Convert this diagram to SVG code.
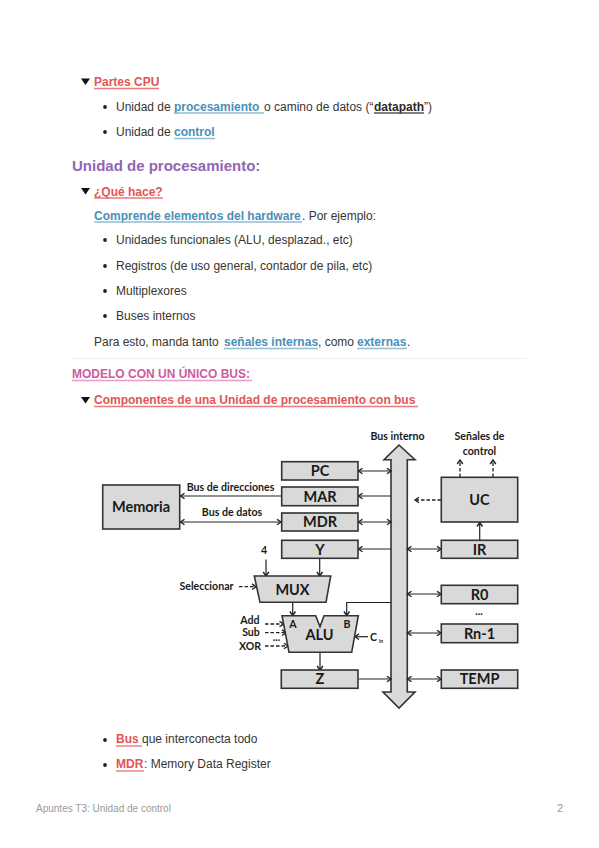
<svg xmlns="http://www.w3.org/2000/svg" width="599" height="848" viewBox="0 0 599 848">
<style>
text{font-family:"Liberation Sans",Arial,sans-serif;font-size:12px;fill:#37352f}
.b{font-weight:700}
.red{fill:#e15554}.blue{fill:#4a8fb8}.dark{fill:#2c2a26}
.h{font-size:15px;font-weight:700;fill:#9065b5}
.pink{fill:#cf5a9f;font-weight:700}
.ft{font-size:10px;fill:#999}
.ur{stroke:#eb7a78;stroke-width:1.4;fill:none}
.ub{stroke:#8fbdd6;stroke-width:1.4;fill:none}
.ud{stroke:#555;stroke-width:1.4;fill:none}
.up{stroke:#e79ccb;stroke-width:1.4;fill:none}
.box{fill:#d9d9d9;stroke:#333;stroke-width:1.6}
.d text{font-family:Lato,"Liberation Sans",sans-serif;font-weight:700;fill:#1a1a1a;text-anchor:middle}
.n{font-size:14.5px}
.s{font-size:10.6px}
.c path{fill:none;stroke:#222;stroke-width:1.2}
.c .da{stroke-dasharray:3.5 2;stroke-width:1.3}
</style>
<defs>
<marker id="a" markerUnits="userSpaceOnUse" markerWidth="8" markerHeight="8" refX="5.5" refY="4" orient="auto-start-reverse"><path d="M1.5 1.2L5.5 4L1.5 6.8" fill="none" stroke="#222" stroke-width="1.4"/></marker>
</defs>

<g id="text-top">
<path d="M81 78.500H90L85.500 85Z" fill="#111"/>
<text x="94" y="86" class="b red">Partes CPU</text><path class="ur" d="M94 88.500H159"/>
<circle cx="105" cy="107" r="1.900" fill="#222"/>
<text x="116" y="111">Unidad de</text>
<text x="174" y="111" class="b blue">procesamiento</text><path class="ub" d="M174 113H264"/>
<text x="264" y="111">o camino de datos (“</text>
<text x="374" y="111" class="b dark">datapath</text><path class="ud" d="M374 113H424"/>
<text x="424" y="111">”)</text>
<circle cx="105" cy="132" r="1.900" fill="#222"/>
<text x="116" y="136">Unidad de</text>
<text x="174" y="136" class="b blue">control</text><path class="ub" d="M174 138.500H215"/>
<text x="72" y="171" class="h">Unidad de procesamiento:</text>
<path d="M81 188H90L85.500 194.500Z" fill="#111"/>
<text x="94" y="196" class="b red">¿Qué hace?</text><path class="ur" d="M94 198H163"/>
<text x="94" y="220" class="b blue">Comprende elementos del hardware</text><path class="ub" d="M94 222H302"/>
<text x="302" y="220">. Por ejemplo:</text>
<circle cx="105" cy="240" r="1.900" fill="#222"/>
<text x="116" y="244">Unidades funcionales (ALU, desplazad., etc)</text>
<circle cx="105" cy="266" r="1.900" fill="#222"/>
<text x="116" y="270">Registros (de uso general, contador de pila, etc)</text>
<circle cx="105" cy="291" r="1.900" fill="#222"/>
<text x="116" y="295">Multiplexores</text>
<circle cx="105" cy="316" r="1.900" fill="#222"/>
<text x="116" y="320">Buses internos</text>
<text x="94" y="346">Para esto, manda tanto</text>
<text x="224" y="346" class="b blue">señales internas</text><path class="ub" d="M224 348.500H318"/>
<text x="318" y="346">, como</text>
<text x="357" y="346" class="b blue">externas</text><path class="ub" d="M357 348.500H407"/>
<text x="407" y="346">.</text>
<path d="M72 358.500H527" stroke="#efefed" stroke-width="1.200"/>
<text x="72" y="378" class="pink">MODELO CON UN ÚNICO BUS:</text><path class="up" d="M72 380.500H252"/>
<path d="M81 397H90L85.500 403.500Z" fill="#111"/>
<text x="94" y="404" class="b red">Componentes de una Unidad de procesamiento con bus</text><path class="ur" d="M94 406.500H418"/>
</g>

<g class="d">
<g id="bus"><path class="box" d="M399 445L415 459.700H407.300V692H415L399 708L383 692H391V459.700H384L399 445Z"/></g>
<g id="connectors" class="c">
<path marker-start="url(#a)" marker-end="url(#a)" d="M358.500 471H391"/>
<path marker-end="url(#a)" d="M391 496H358.500"/>
<path marker-start="url(#a)" marker-end="url(#a)" d="M358.500 522H391"/>
<path marker-end="url(#a)" d="M391 549H358.500"/>
<path marker-end="url(#a)" d="M281 496H180.500"/>
<path marker-start="url(#a)" marker-end="url(#a)" d="M180.500 522H281"/>
<path marker-end="url(#a)" d="M266 559.500V576"/>
<path marker-end="url(#a)" d="M319.700 558.500V576"/>
<path class="da" marker-end="url(#a)" d="M239 586.700H256"/>
<path marker-end="url(#a)" d="M292.700 602.500V615.500"/>
<path marker-end="url(#a)" d="M391 602.500H346.700V615.500"/>
<path marker-end="url(#a)" d="M320 652.500V670"/>
<path class="da" marker-end="url(#a)" d="M265 624H283.500"/>
<path class="da" marker-end="url(#a)" d="M265 632.700H286"/>
<path class="da" marker-end="url(#a)" d="M265 646H288"/>
<path marker-end="url(#a)" d="M368 636.700H355"/>
<path marker-end="url(#a)" d="M358.500 679H391"/>
<path class="da" marker-end="url(#a)" d="M441 500H415"/>
<path class="da" marker-end="url(#a)" d="M460 477V460"/>
<path class="da" marker-end="url(#a)" d="M493 477V460"/>
<path marker-end="url(#a)" d="M479.700 540V522.500"/>
<path marker-start="url(#a)" marker-end="url(#a)" d="M407.500 549H441"/>
<path marker-start="url(#a)" marker-end="url(#a)" d="M407.500 594H441"/>
<path marker-start="url(#a)" marker-end="url(#a)" d="M407.500 633H441"/>
<path marker-start="url(#a)" marker-end="url(#a)" d="M407.500 679H441"/>
</g>
<g id="pc"><rect class="box" x="281.700" y="461.700" width="76.300" height="18.300"/><text class="n" x="320" y="476">PC</text></g>
<g id="mar"><rect class="box" x="281.700" y="487" width="76.300" height="18.700"/><text class="n" x="320" y="501.500">MAR</text></g>
<g id="mdr"><rect class="box" x="281.700" y="513" width="76.300" height="18"/><text class="n" x="320" y="527">MDR</text></g>
<g id="y"><rect class="box" x="281.700" y="540.300" width="76.300" height="18"/><text class="n" x="320" y="554.500">Y</text></g>
<g id="memoria"><rect class="box" x="102.700" y="485" width="77" height="44"/><text class="n" x="141" y="512">Memoria</text></g>
<g id="uc"><rect class="box" x="441.300" y="477.300" width="76.400" height="44.700"/><text class="n" x="479.500" y="505">UC</text></g>
<g id="ir"><rect class="box" x="441.300" y="540.300" width="76.400" height="18"/><text class="n" x="479.500" y="554.500">IR</text></g>
<g id="r0"><rect class="box" x="441.300" y="585.300" width="76.400" height="18.400"/><text class="n" x="479.500" y="599.500">R0</text></g>
<g id="rn1"><rect class="box" x="441.300" y="624" width="76.400" height="18.700"/><text class="n" x="479.500" y="638.500">Rn-1</text></g>
<g id="temp"><rect class="box" x="441.300" y="670" width="76.400" height="18.300"/><text class="n" x="479.500" y="684">TEMP</text></g>
<g id="z"><rect class="box" x="281.300" y="670" width="76.700" height="18.300"/><text class="n" x="320" y="684">Z</text></g>
<g id="mux"><path class="box" d="M254.300 576H330.700L326 602.300H260Z"/><text class="n" x="292.500" y="594.500">MUX</text></g>
<g id="alu"><path class="box" d="M282 615.700H315.700L320 626.700L324 615.700H358.300L351.700 652.300H289Z"/><text class="n" x="319.500" y="640">ALU</text><text class="s" x="293" y="628">A</text><text class="s" x="347" y="628">B</text></g>
<g id="labels">
<text class="s" x="397.500" y="440">Bus interno</text>
<text class="s" x="479.500" y="440">Señales de</text>
<text class="s" x="479.500" y="455">control</text>
<text class="s" x="230.500" y="491">Bus de direcciones</text>
<text class="s" x="232" y="516">Bus de datos</text>
<text class="s" x="264" y="554">4</text>
<text class="s" x="206.500" y="590">Seleccionar</text>
<text class="s" x="250" y="623.500">Add</text>
<text class="s" x="251" y="636">Sub</text>
<text class="s" x="250" y="650">XOR</text>
<text class="s" x="276.500" y="641">...</text>
<text class="s" x="479" y="615">...</text>
<text class="s" x="373.500" y="641">C</text>
<text x="381" y="643" style="font-size:5px">in</text>
</g>
</g>

<g id="text-bottom">
<circle cx="105" cy="740" r="1.900" fill="#222"/>
<text x="116" y="743" class="b red">Bus</text><path class="ur" d="M116 746H142"/>
<text x="142" y="743">que interconecta todo</text>
<circle cx="105" cy="765" r="1.900" fill="#222"/>
<text x="116" y="768" class="b red">MDR</text><path class="ur" d="M116 771H144"/>
<text x="144" y="768">: Memory Data Register</text>
<text x="36" y="812" class="ft">Apuntes T3: Unidad de control</text>
<text x="557" y="812" class="ft" style="font-size:11px">2</text>
</g>
</svg>
